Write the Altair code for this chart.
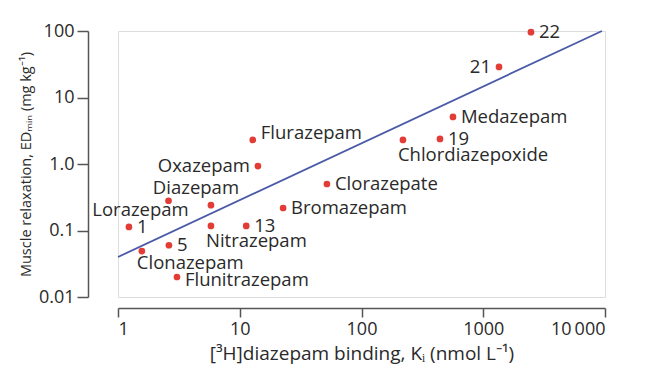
import altair as alt
import pandas as pd

# Data
names = ["22", "21", "Medazepam", "19", "Chlordiazepoxide", "Clorazepate", "Bromazepam",
         "Flurazepam", "Oxazepam", "Diazepam", "Lorazepam", "1", "Nitrazepam", "13", "5",
         "Clonazepam", "Flunitrazepam"]
ki = [2466, 1347, 564, 441, 219, 52, 22.7, 12.8, 14.1, 5.8, 2.6, 1.23, 5.8, 11.3, 2.62, 1.57, 3.05]
ed = [96, 28.8, 5.1, 2.38, 2.3, 0.5, 0.218, 2.3, 0.93, 0.24, 0.28, 0.113, 0.117, 0.117, 0.06, 0.049, 0.02]

fit_x = [1, 9440]
fit_y = [0.04, 100]

# label placement groups
place = {
    "22": "right", "Medazepam": "right", "19": "right", "Clorazepate": "right",
    "Bromazepam": "right", "1": "right", "13": "right", "5": "right",
    "Flunitrazepam": "rightlow", "Flurazepam": "righthigh",
    "21": "left", "Oxazepam": "left",
    "Chlordiazepoxide": "below", "Nitrazepam": "below", "Clonazepam": "belowc",
    "Diazepam": "above", "Lorazepam": "lora",
}

df = pd.DataFrame({"name": names, "ki": ki, "ed": ed})
df["place"] = df["name"].map(place)
fit = pd.DataFrame({"ki": fit_x, "ed": fit_y})

FONT = "Open Sans"
TXT = "#2a2a2a"
AX = "#555555"
LFS = 18.5

xs = alt.Scale(type="log", domain=[1, 10000], nice=False)
ys = alt.Scale(type="log", domain=[0.01, 100], nice=False)

x_enc = alt.X("ki:Q", scale=xs, axis=alt.Axis(
    values=[1, 10, 100, 1000, 10000],
    labelExpr="datum.value == 10000 ? '10\u2009000' : format(datum.value, 'd')",
    offset=11, tickSize=9, labelPadding=3, grid=False,
    title="[³H]diazepam binding, Kᵢ (nmol L⁻¹)", titlePadding=6,
    labelFontSize=18, titleFontSize=19, labelFont=FONT, titleFont=FONT,
    labelColor=TXT, titleColor=TXT, titleFontWeight="normal",
    domainColor=AX, tickColor=AX, domainWidth=1.5, tickWidth=1.5))
y_enc = alt.Y("ed:Q", scale=ys, axis=alt.Axis(
    values=[0.01, 0.1, 1, 10, 100],
    labelExpr="datum.value == 1 ? '1.0' : (datum.value < 1 ? format(datum.value, '.2~f') : format(datum.value, 'd'))",
    offset=30, tickSize=11, labelPadding=3, grid=False,
    title="Muscle relaxation, EDₘᵢₙ (mg kg⁻¹)", titlePadding=5,
    labelFontSize=18, titleFontSize=14.5, labelFont=FONT, titleFont=FONT,
    labelColor=TXT, titleColor=TXT, titleFontWeight="normal",
    domainColor=AX, tickColor=AX, domainWidth=1.5, tickWidth=1.5))

line = alt.Chart(fit).mark_line(color="#4a5aa8", strokeWidth=1.8).encode(x=x_enc, y=y_enc)
pts = alt.Chart(df).mark_circle(color="#e23c36", opacity=1, size=45).encode(
    x=alt.X("ki:Q", scale=xs), y=alt.Y("ed:Q", scale=ys))

def lab(p, **kw):
    return alt.Chart(df).transform_filter(alt.datum.place == p).mark_text(
        font=FONT, fontSize=LFS, color=TXT, baseline="middle", **kw
    ).encode(x=alt.X("ki:Q", scale=xs), y=alt.Y("ed:Q", scale=ys), text="name:N")

labels = [
    lab("right", align="left", dx=8, dy=0),
    lab("rightlow", align="left", dx=8, dy=3),
    lab("righthigh", align="left", dx=8, dy=-7),
    lab("left", align="right", dx=-8, dy=0),
    lab("below", align="left", dx=-5, dy=15),
    lab("belowc", align="left", dx=-5, dy=12),
    lab("above", align="center", dx=-15, dy=-17),
    lab("lora", align="center", dx=-28, dy=9),
]

chart = alt.layer(line, pts, *labels).properties(
    width=487, height=266,
    autosize=alt.AutoSizeParams(type="none"),
    padding={"left": 110, "top": 23, "right": 30, "bottom": 80},
).configure_view(stroke=None).configure(background="white")

chart.save("out.html", embed_options={"renderer": "svg", "actions": False})
